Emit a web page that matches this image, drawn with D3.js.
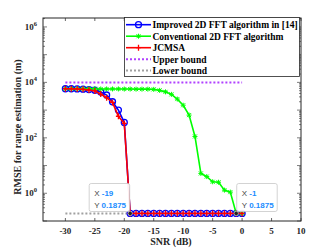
<!DOCTYPE html>
<html><head><meta charset="utf-8">
<script src="https://cdn.jsdelivr.net/npm/d3@7"></script>
<style>body{margin:0;background:#fff}svg{display:block}</style>
</head><body>
<script>
const snr = d3.range(-30, 1, 1);
const improved = [5900,5900,5800,5700,5500,5200,4500,3500,2000,1000,360,
  0.1875,0.1875,0.1875,0.1875,0.1875,0.1875,0.1875,0.1875,0.1875,0.1875,
  0.1875,0.1875,0.1875,0.1875,0.1875,0.1875,0.1875,0.1875,0.1875,0.1875];
const conventional = [5900,5900,5900,5900,5850,5850,5800,5800,5800,5800,5750,5750,5700,5700,5700,5600,
  5150,4550,3700,2500,1500,660,112,5.2,4.0,2.6,2.5,1.3,1.1,0.1875,0.1875];
const jcmsa = [5900,5900,5800,5600,5300,4900,3800,2800,1900,600,330,
  0.1875,0.1875,0.1875,0.1875,0.1875,0.1875,0.1875,0.1875,0.1875,0.1875,
  0.1875,0.1875,0.1875,0.1875,0.1875,0.1875,0.1875,0.1875,0.1875,0.1875];
const upperBound = 10000;
const lowerBound = 0.1875;
const xTicks = [-30,-25,-20,-15,-10,-5,0,5,10];
const yTickExps = [0,2,4,6];
const legendLabels = ["Improved 2D FFT algorithm in [14]","Conventional 2D FFT algorithm","JCMSA","Upper bound","Lower bound"];
const tips = [{x:-19,y:0.1875},{x:-1,y:0.1875}];

const W=332,H=249, L=43,R=301,T=18,B=221;
const svg=d3.select("body").append("svg").attr("width",W).attr("height",H);
const x=d3.scaleLinear().domain([-33.8,10]).range([L,R]);
const y=d3.scaleLog().domain([0.1,2.1e6]).range([B,T]);
const font="'Liberation Serif','Times New Roman',serif";
const ax="#262626";

// minor/major y ticks
const g=svg.append("g");
for(let e=-1;e<=6;e++){
  for(let m=1;m<10;m++){
    const v=m*Math.pow(10,e);
    if(v<0.1||v>2.1e6) continue;
    const len = m===1?4:2;
    g.append("line").attr("x1",L).attr("x2",L+len).attr("y1",y(v)).attr("y2",y(v)).attr("stroke",ax).attr("stroke-width",0.6);
    g.append("line").attr("x1",R).attr("x2",R-len).attr("y1",y(v)).attr("y2",y(v)).attr("stroke",ax).attr("stroke-width",0.6);
  }
}
xTicks.forEach(t=>{
  g.append("line").attr("x1",x(t)).attr("x2",x(t)).attr("y1",B).attr("y2",B-3).attr("stroke",ax).attr("stroke-width",0.7);
  g.append("line").attr("x1",x(t)).attr("x2",x(t)).attr("y1",T).attr("y2",T+3).attr("stroke",ax).attr("stroke-width",0.7);
  svg.append("text").attr("x",x(t)).attr("y",234).attr("text-anchor","middle")
    .attr("font-family",font).attr("font-weight","bold").attr("font-size",9).attr("fill",ax).text(t);
});
yTickExps.forEach(e=>{
  const t=svg.append("text").attr("x",37).attr("y",y(Math.pow(10,e))+3).attr("text-anchor","end")
    .attr("font-family",font).attr("font-weight","bold").attr("font-size",9).attr("fill",ax);
  t.append("tspan").text("10");
  t.append("tspan").attr("dy",-4).attr("font-size",6.5).text(e);
});

// bounds
const line=d3.line().x(d=>x(d[0])).y(d=>y(d[1]));
svg.append("path").datum(snr.map(s=>[s,upperBound])).attr("d",line).attr("fill","none")
  .attr("stroke","#b040ff").attr("stroke-width",2).attr("stroke-dasharray","2,2");
svg.append("path").datum(snr.map(s=>[s,lowerBound])).attr("d",line).attr("fill","none")
  .attr("stroke","#a0a0a0").attr("stroke-width",2).attr("stroke-dasharray","2,2");

function series(vals,color,marker){
  const pts=snr.map((s,i)=>[s,vals[i]]);
  svg.append("path").datum(pts).attr("d",line).attr("fill","none").attr("stroke",color).attr("stroke-width",1.6);
  pts.forEach(p=>drawMarker(svg,x(p[0]),y(p[1]),color,marker));
}
function drawMarker(sel,cx,cy,color,marker){
  if(marker==="o"){
    sel.append("circle").attr("cx",cx).attr("cy",cy).attr("r",3).attr("fill","none").attr("stroke",color).attr("stroke-width",1.3);
  } else if(marker==="+"){
    sel.append("path").attr("d",`M${cx-2.5},${cy}H${cx+2.5}M${cx},${cy-3}V${cy+3}`).attr("stroke",color).attr("stroke-width",1.3);
  } else if(marker==="*"){
    sel.append("path").attr("d",`M${cx-2.5},${cy}H${cx+2.5}M${cx},${cy-2.5}V${cy+2.5}M${cx-2},${cy-2}L${cx+2},${cy+2}M${cx-2},${cy+2}L${cx+2},${cy-2}`).attr("stroke",color).attr("stroke-width",1);
  }
}
series(improved,"#0000ff","o");
series(conventional,"#00ff00","*");
series(jcmsa,"#ff0000","+");

// axes box
svg.append("rect").attr("x",L).attr("y",T).attr("width",R-L).attr("height",B-T).attr("fill","none").attr("stroke",ax).attr("stroke-width",1);

// data tips
tips.forEach((d,i)=>{
  const px=x(d.x),py=y(d.y);
  svg.append("circle").attr("cx",px).attr("cy",py).attr("r",2.2).attr("fill","#222").attr("stroke","#ddd").attr("stroke-width",0.6);
  const bx = i===0? px-41 : px+0.5, by=183.5, bw=40.5, bh=28;
  svg.append("rect").attr("x",bx).attr("y",by).attr("width",bw).attr("height",bh).attr("rx",2)
    .attr("fill","rgba(255,255,255,0.93)").attr("stroke","#c8c8c8").attr("stroke-width",0.8);
  [["X ",String(d.x),196],["Y ",String(d.y),207.5]].forEach(r=>{
    const t=svg.append("text").attr("x",bx+5).attr("y",r[2]).attr("font-family","'Liberation Sans',Arial,sans-serif").attr("font-size",8);
    t.append("tspan").attr("fill","#444").text(r[0]);
    t.append("tspan").attr("fill","#1a8cff").attr("font-weight","bold").text(r[1]);
  });
});

// legend
const lg=svg.append("g");
lg.append("rect").attr("x",124.5).attr("y",17.5).attr("width",175).attr("height",59).attr("fill","#fff").attr("stroke",ax).attr("stroke-width",0.8);
const lgColors=["#0000ff","#00ff00","#ff0000","#b040ff","#a0a0a0"];
const lgMarkers=["o","*","+",null,null];
const lgY=[24.7,36.2,47.7,59.2,70.5];
legendLabels.forEach((lab,i)=>{
  const ly=lgY[i];
  const ln=lg.append("line").attr("x1",126).attr("x2",151).attr("y1",ly).attr("y2",ly).attr("stroke",lgColors[i]).attr("stroke-width",i>=3?2:1.6);
  if(i>=3) ln.attr("stroke-dasharray","2,2");
  if(lgMarkers[i]) drawMarker(lg,138.5,ly,lgColors[i],lgMarkers[i]);
  lg.append("text").attr("x",152.5).attr("y",ly+3.3).attr("font-family",font).attr("font-weight","bold")
    .attr("font-size",9.5).attr("fill","#000").text(lab);
});

// axis labels
svg.append("text").attr("x",171).attr("y",245).attr("text-anchor","middle").attr("font-family",font)
  .attr("font-weight","bold").attr("font-size",10).attr("fill",ax).text("SNR (dB)");
svg.append("text").attr("transform","translate(21,127) rotate(-90)").attr("text-anchor","middle").attr("font-family",font)
  .attr("font-weight","bold").attr("font-size",10).attr("fill",ax).text("RMSE for range estimation (m)");
</script>
</body></html>
